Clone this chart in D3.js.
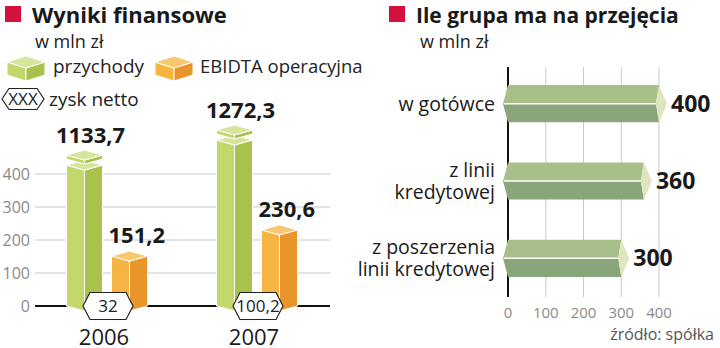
<!DOCTYPE html>
<html>
<head>
<meta charset="utf-8">
<script src="https://d3js.org/d3.v7.min.js"></script>
<style>
  body { margin: 0; background: #fff; }
  text { font-family: "Open Sans", sans-serif; }
</style>
</head>
<body>
<div id="vis"></div>
<script>
// left chart data
var years = ["2006", "2007"];
var series = ["przychody", "EBIDTA operacyjna"];
var revenue = [1133.7, 1272.3];
var revenueShown = [427, 503];   // broken column height as drawn
var ebitda = [151.2, 230.6];
var netProfit = [32, 100.2];
var leftTicks = [0, 100, 200, 300, 400];

// right chart data
var sources = [["w gotówce"], ["z linii", "kredytowej"], ["z poszerzenia", "linii kredytowej"]];
var amounts = [400, 360, 300];
var rightTicks = [0, 100, 200, 300, 400];

var fmt = function(v) { return String(v).replace(".", ","); };

var svg = d3.select("#vis").append("svg")
  .attr("width", 720)
  .attr("height", 348);

var numFont = "'DejaVu Sans', sans-serif";

// ---------- headers ----------
function header(x, title, size) {
  svg.append("rect").attr("x", x).attr("y", 6).attr("width", 16).attr("height", 16).attr("fill", "#d4103c");
  svg.append("text").attr("x", x + 27).attr("y", 23)
    .attr("font-size", size).attr("font-weight", 700).attr("fill", "#1a1a1a")
    .text(title);
}
header(5, "Wyniki finansowe", 22);
header(389, "Ile grupa ma na przejęcia", 21);
svg.append("text").attr("x", 35).attr("y", 48).attr("font-size", 18).attr("fill", "#222").text("w mln zł");
svg.append("text").attr("x", 420).attr("y", 48).attr("font-size", 18).attr("fill", "#222").text("w mln zł");

var green = { left: "#c3d86b", right: "#a9c24b", top: "#d6e59c" };
var orange = { left: "#f6b443", right: "#e8962c", top: "#f8c86c" };

// legend cubes
function cube(cx, cy, c) {
  var w = 19, d = 6, h = 13;
  var g = svg.append("g").attr("stroke", "#fff").attr("stroke-width", 1);
  g.append("path").attr("fill", c.left)
    .attr("d", `M${cx - w},${cy} L${cx},${cy + d} L${cx},${cy + d + h} L${cx - w},${cy + h} Z`);
  g.append("path").attr("fill", c.right)
    .attr("d", `M${cx},${cy + d} L${cx + w},${cy} L${cx + w},${cy + h} L${cx},${cy + d + h} Z`);
  g.append("path").attr("fill", c.top)
    .attr("d", `M${cx - w},${cy} L${cx},${cy - d} L${cx + w},${cy} L${cx},${cy + d} Z`);
}
cube(26, 62, green);
svg.append("text").attr("x", 53).attr("y", 73).attr("font-size", 19).attr("fill", "#222").text(series[0]);
cube(174, 62, orange);
svg.append("text").attr("x", 200).attr("y", 73).attr("font-size", 18.5).attr("fill", "#222").text(series[1]);

function hexagon(cx, cy, w, h) {
  var hw = w / 2, hh = h / 2, p = 7;
  return `M${cx - hw},${cy} L${cx - hw + p},${cy - hh} L${cx + hw - p},${cy - hh} L${cx + hw},${cy} L${cx + hw - p},${cy + hh} L${cx - hw + p},${cy + hh} Z`;
}
svg.append("path").attr("d", hexagon(23, 99, 42, 21)).attr("fill", "#fff").attr("stroke", "#222").attr("stroke-width", 1.2);
svg.append("text").attr("x", 23).attr("y", 105).attr("text-anchor", "middle").attr("font-size", 17).attr("fill", "#222").text("XXX");
svg.append("text").attr("x", 49).attr("y", 106).attr("font-size", 19).attr("fill", "#222").text("zysk netto");

// ---------- left chart ----------
var y = d3.scaleLinear().domain([0, 400]).range([306, 174]);
var x0 = d3.scaleBand().domain(years).range([32, 332]);
var x1 = d3.scaleBand().domain(series).range([-40.5, 40.5]).paddingInner(0.2);

var left = svg.append("g");
left.selectAll(".grid").data(leftTicks.slice(1)).join("line")
  .attr("x1", 35).attr("x2", 330)
  .attr("y1", d => y(d)).attr("y2", d => y(d))
  .attr("stroke", "#c8c8c8").attr("stroke-width", 1);
left.selectAll(".tick").data(leftTicks).join("text")
  .attr("x", 30).attr("y", d => y(d) + 6)
  .attr("text-anchor", "end").attr("font-size", 16).attr("fill", "#8a8a8a")
  .text(d => d);
left.append("line").attr("x1", 35).attr("x2", 330).attr("y1", y(0)).attr("y2", y(0))
  .attr("stroke", "#111").attr("stroke-width", 2);

function column(g, xL, w, yTop, yBase, c) {
  var d = 5, xM = xL + w / 2, xR = xL + w;
  var b = g.append("g").attr("stroke", "#fff").attr("stroke-width", 1);
  b.append("path").attr("fill", c.left)
    .attr("d", `M${xL},${yTop} L${xM},${yTop + d} L${xM},${yBase + d} L${xL},${yBase} Z`);
  b.append("path").attr("fill", c.right)
    .attr("d", `M${xM},${yTop + d} L${xR},${yTop} L${xR},${yBase} L${xM},${yBase + d} Z`);
  b.append("path").attr("fill", c.top)
    .attr("d", `M${xL},${yTop} L${xM},${yTop - d} L${xR},${yTop} L${xM},${yTop + d} Z`);
}
function cap(g, xL, w, yTop, c) {
  var d = 5, t = 4, xM = xL + w / 2, xR = xL + w;
  var b = g.append("g").attr("stroke", "#fff").attr("stroke-width", 1);
  b.append("path").attr("fill", c.left)
    .attr("d", `M${xL},${yTop} L${xM},${yTop + d} L${xM},${yTop + d + t} L${xL},${yTop + t} Z`);
  b.append("path").attr("fill", c.right)
    .attr("d", `M${xM},${yTop + d} L${xR},${yTop} L${xR},${yTop + t} L${xM},${yTop + d + t} Z`);
  b.append("path").attr("fill", c.top)
    .attr("d", `M${xL},${yTop} L${xM},${yTop - d} L${xR},${yTop} L${xM},${yTop + d} Z`);
}

years.forEach(function(yr, i) {
  var gx = x0(yr) + x0.bandwidth() / 2;
  var bw = x1.bandwidth();
  var rx = gx + x1(series[0]);
  var ex = gx + x1(series[1]);

  column(left, rx, bw, y(revenueShown[i]), y(0), green);
  cap(left, rx, bw, y(revenueShown[i]) - 10, green);
  column(left, ex, bw, y(ebitda[i]), y(0), orange);

  left.append("text").attr("x", rx + bw / 2 + 6).attr("y", y(revenueShown[i]) - 22)
    .attr("text-anchor", "middle").attr("font-family", numFont).attr("font-weight", 700)
    .attr("font-size", 22).attr("fill", "#1a1a1a").text(fmt(revenue[i]));
  left.append("text").attr("x", ex - 3).attr("y", y(ebitda[i]) - 13)
    .attr("font-family", numFont).attr("font-weight", 700)
    .attr("font-size", 22).attr("fill", "#1a1a1a").text(fmt(ebitda[i]));

  left.append("path").attr("d", hexagon(gx + 1, y(0), 50, 27))
    .attr("fill", "#fff").attr("stroke", "#222").attr("stroke-width", 1.2);
  left.append("text").attr("x", gx + 1).attr("y", y(0) + 6)
    .attr("text-anchor", "middle").attr("font-size", 17).attr("fill", "#222").text(fmt(netProfit[i]));

  left.append("text").attr("x", gx - 3).attr("y", 345)
    .attr("text-anchor", "middle").attr("font-size", 22).attr("fill", "#1a1a1a").text(yr);
});

// ---------- right chart ----------
var xr = d3.scaleLinear().domain([0, 400]).range([508, 659]);
var yr = d3.scaleBand().domain(d3.range(sources.length)).range([65, 297]).paddingInner(0.52).paddingOuter(0.26);

var right = svg.append("g");
right.selectAll(".vgrid").data(rightTicks.slice(1)).join("line")
  .attr("x1", d => xr(d)).attr("x2", d => xr(d))
  .attr("y1", 67).attr("y2", 297)
  .attr("stroke", "#c8c8c8").attr("stroke-width", 1);
right.append("line").attr("x1", xr(0)).attr("x2", xr(0)).attr("y1", 67).attr("y2", 297)
  .attr("stroke", "#111").attr("stroke-width", 2);
right.selectAll(".xtick").data(rightTicks).join("text")
  .attr("x", d => xr(d)).attr("y", 318)
  .attr("text-anchor", "middle").attr("font-size", 15).attr("fill", "#8a8a8a")
  .text(d => d);

amounts.forEach(function(v, i) {
  var top = yr(i), h = yr.bandwidth(), mid = top + h / 2, bot = top + h;
  var xs = xr(0), xe = xr(v);
  right.append("path").attr("fill", "#a9bf8a")
    .attr("d", `M${xs},${top} L${xe},${top} L${xe - 3},${mid} L${xs - 5},${mid} Z`);
  right.append("path").attr("fill", "#88a67a")
    .attr("d", `M${xs - 5},${mid} L${xe - 3},${mid} L${xe},${bot} L${xs},${bot} Z`);
  right.append("line").attr("x1", xs - 4).attr("x2", xe - 3).attr("y1", mid).attr("y2", mid)
    .attr("stroke", "#fff").attr("stroke-width", 1.5);
  right.append("path").attr("fill", "#dfe6bf")
    .attr("d", `M${xe},${top} L${xe + 8},${mid} L${xe},${bot} L${xe - 3},${mid} Z`);
  right.append("text").attr("x", xe + 12).attr("y", mid + 8)
    .attr("font-family", numFont).attr("font-weight", 700)
    .attr("font-size", 23).attr("fill", "#1a1a1a").text(v);

  var lines = sources[i];
  lines.forEach(function(l, j) {
    right.append("text").attr("x", 495)
      .attr("y", mid + 7 + (j - (lines.length - 1) / 2) * 22)
      .attr("text-anchor", "end").attr("font-size", 19.5).attr("fill", "#1a1a1a").text(l);
  });
});

svg.append("text").attr("x", 714).attr("y", 340).attr("text-anchor", "end")
  .attr("font-size", 16).attr("fill", "#555").text("źródło: spółka");
</script>
</body>
</html>
